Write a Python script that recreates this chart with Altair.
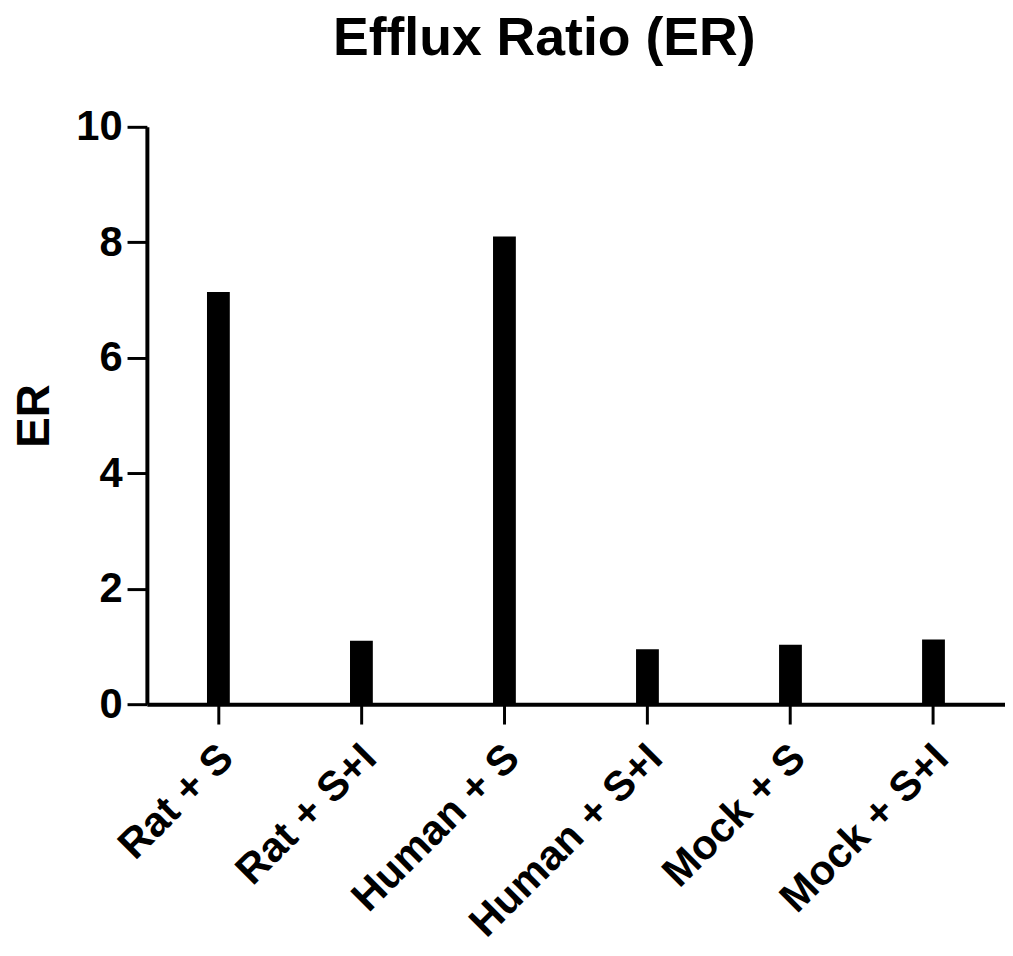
import altair as alt
import pandas as pd

categories = ["Rat + S", "Rat + S+I", "Human + S", "Human + S+I", "Mock + S", "Mock + S+I"]
er_values = [7.14, 1.10, 8.10, 0.95, 1.03, 1.12]
y_ticks = [0, 2, 4, 6, 8, 10]

df = pd.DataFrame({"group": categories, "ER": er_values})

FONT = "Liberation Sans"

chart = (
    alt.Chart(df)
    .mark_bar(color="black", size=23)
    .encode(
        x=alt.X(
            "group:N",
            sort=categories,
            title=None,
            scale=alt.Scale(paddingInner=0, paddingOuter=0),
            axis=alt.Axis(
                labelAngle=-45,
                labelFont=FONT,
                labelFontWeight="bold",
                labelFontSize=42,
                labelColor="black",
                labelPadding=13,
                labelOffset=-6,
                labelLimit=0,
                tickSize=20,
                tickWidth=3,
                tickColor="black",
                domainColor="black",
                domainWidth=4,
                labelOverlap=False,
            ),
        ),
        y=alt.Y(
            "ER:Q",
            title="ER",
            scale=alt.Scale(domain=[0, 10], nice=False),
            axis=alt.Axis(
                values=y_ticks,
                grid=False,
                labelFont=FONT,
                labelFontWeight="bold",
                labelFontSize=42,
                labelColor="black",
                labelPadding=5,
                tickSize=20,
                tickWidth=3,
                tickColor="black",
                domainColor="black",
                domainWidth=4,
                titleFont=FONT,
                titleFontWeight="bold",
                titleFontSize=46,
                titleColor="black",
                titleX=-99,
                titleY=291,
                titleBaseline="alphabetic",
                titleAngle=-90,
                titleAlign="center",
            ),
        ),
    )
    .properties(
        width=865,
        height=582,
        autosize=alt.AutoSizeParams(type="none"),
        padding={"left": 140, "top": 116, "right": 0, "bottom": 242},
        title=alt.TitleParams(
            "Efflux Ratio (ER)",
            font=FONT,
            fontSize=54,
            fontWeight="bold",
            color="black",
            anchor="middle",
            baseline="alphabetic",
            offset=52,
            dx=-32,
            dy=55,
        ),
    )
    .configure_view(stroke=None)
)

chart.save("out.html", embed_options={"renderer": "svg", "actions": False})
